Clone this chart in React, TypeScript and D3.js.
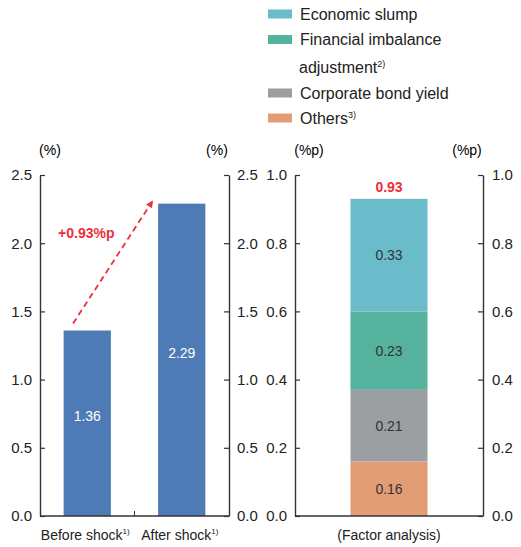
import React, { useEffect, useRef } from 'react';
import * as d3 from 'd3';

const categories = ['Before shock', 'After shock'];
const rates = [1.36, 2.29];
const rateTicks = [0, 0.5, 1.0, 1.5, 2.0, 2.5];
const rateChange = '+0.93%p';

const factorNames = ['Others', 'Corporate bond yield', 'Financial imbalance adjustment', 'Economic slump'];
const factorValues = [0.16, 0.21, 0.23, 0.33];
const factorColors = ['#e39d74', '#9c9fa2', '#55b29d', '#6bbccb'];
const factorTicks = [0, 0.2, 0.4, 0.6, 0.8, 1.0];
const factorTotal = 0.93;
const factorCategory = '(Factor analysis)';

const FONT = '"Liberation Sans", Arial, Helvetica, sans-serif';
const RED = '#ee2e3a';
const AXIS = '#333';

const App: React.FC = () => {
  const svgRef = useRef<SVGSVGElement | null>(null);

  useEffect(() => {
    const svg = d3.select(svgRef.current!);
    svg.selectAll('*').remove();
    svg.style('font-family', FONT);

    // arrow marker
    svg
      .append('defs')
      .append('marker')
      .attr('id', 'arrowhead')
      .attr('viewBox', '0 0 10 10')
      .attr('refX', 8)
      .attr('refY', 5)
      .attr('markerWidth', 4)
      .attr('markerHeight', 4)
      .attr('orient', 'auto')
      .append('path')
      .attr('d', 'M0,0L10,5L0,10z')
      .attr('fill', RED);

    // ---------- legend ----------
    const legend = svg.append('g').attr('transform', 'translate(268, 0)');
    const legendRows = [
      { i: 3, y: 14 },
      { i: 2, y: 39.5 },
      { i: 1, y: 93 },
      { i: 0, y: 118 },
    ];
    legendRows.forEach((r) => {
      legend
        .append('rect')
        .attr('x', 0)
        .attr('y', r.y - 4.5)
        .attr('width', 24)
        .attr('height', 9)
        .attr('fill', factorColors[r.i]);
    });
    const legText = (t: string, y: number, sup?: string, x = 32) => {
      const tx = legend
        .append('text')
        .attr('x', x)
        .attr('y', y + 5.5)
        .attr('font-size', 16)
        .attr('fill', '#222')
        .text(t);
      if (sup) tx.append('tspan').attr('font-size', 9).attr('dy', -6).text(sup);
    };
    legText('Economic slump', 14);
    legText('Financial imbalance', 39.5);
    legText('adjustment', 67, '2)', 31);
    legText('Corporate bond yield', 93);
    legText('Others', 118, '3)');

    // ---------- left chart ----------
    const y1 = d3.scaleLinear().domain([0, 2.5]).range([516, 175]);
    const x1 = d3
      .scaleBand<string>()
      .domain(categories)
      .range([40, 229])
      .paddingInner(0.5)
      .paddingOuter(0.25);

    const left = svg.append('g');
    left
      .selectAll('rect.bar')
      .data(rates)
      .enter()
      .append('rect')
      .attr('class', 'bar')
      .attr('x', (_, i) => x1(categories[i]) as number)
      .attr('y', (d) => y1(d))
      .attr('width', x1.bandwidth())
      .attr('height', (d) => 516 - y1(d))
      .attr('fill', '#4e7ab5');

    left
      .selectAll('text.val')
      .data(rates)
      .enter()
      .append('text')
      .attr('class', 'val')
      .attr('x', (_, i) => (x1(categories[i]) as number) + x1.bandwidth() / 2)
      .attr('y', (d) => y1(d / 2 + 0.05) + 5)
      .attr('text-anchor', 'middle')
      .attr('font-size', 14)
      .attr('fill', '#fff')
      .text((d) => d.toFixed(2));

    const leftAxis = d3
      .axisLeft(y1)
      .tickValues(rateTicks)
      .tickFormat(d3.format('.1f'))
      .tickSizeInner(-5)
      .tickSizeOuter(0)
      .tickPadding(8);
    const rightAxis = d3
      .axisRight(y1)
      .tickValues(rateTicks)
      .tickFormat(d3.format('.1f'))
      .tickSizeInner(-5)
      .tickSizeOuter(0)
      .tickPadding(8);
    left.append('g').attr('transform', 'translate(40,0)').call(leftAxis);
    left.append('g').attr('transform', 'translate(229,0)').call(rightAxis);

    // bottom line + middle tick
    left
      .append('line')
      .attr('x1', 40)
      .attr('x2', 229)
      .attr('y1', 516)
      .attr('y2', 516)
      .attr('stroke', AXIS)
      .attr('stroke-width', 1.6);
    const mid = ((x1(categories[0]) as number) + x1.bandwidth() + (x1(categories[1]) as number)) / 2;
    left
      .append('line')
      .attr('x1', mid)
      .attr('x2', mid)
      .attr('y1', 516)
      .attr('y2', 511)
      .attr('stroke', AXIS);

    categories.forEach((c) => {
      const t = left
        .append('text')
        .attr('x', (x1(c) as number) + x1.bandwidth() / 2 - 2)
        .attr('y', 540)
        .attr('text-anchor', 'middle')
        .attr('font-size', 14)
        .attr('fill', '#222')
        .text(c);
      t.append('tspan').attr('font-size', 8).attr('dy', -6).text('1)');
    });

    // arrow and change label
    left
      .append('line')
      .attr('x1', (x1(categories[0]) as number) + x1.bandwidth() * 0.2)
      .attr('y1', y1(rates[0]) - 7)
      .attr('x2', (x1(categories[1]) as number) - 6)
      .attr('y2', y1(rates[1]) - 2)
      .attr('stroke', RED)
      .attr('stroke-width', 1.8)
      .attr('stroke-dasharray', '6,4')
      .attr('marker-end', 'url(#arrowhead)');
    left
      .append('text')
      .attr('x', (x1(categories[0]) as number) + x1.bandwidth() / 2 - 1)
      .attr('y', 238)
      .attr('text-anchor', 'middle')
      .attr('font-size', 14)
      .attr('font-weight', 'bold')
      .attr('fill', RED)
      .text(rateChange);

    left.append('text').attr('x', 50).attr('y', 155).attr('text-anchor', 'middle').attr('font-size', 14).text('(%)');
    left.append('text').attr('x', 217).attr('y', 155).attr('text-anchor', 'middle').attr('font-size', 14).text('(%)');

    // ---------- right chart ----------
    const y2 = d3.scaleLinear().domain([0, 1]).range([516, 175]);
    const x2 = d3.scaleBand<string>().domain([factorCategory]).range([295, 483]).paddingInner(0).paddingOuter(0.72);
    const right = svg.append('g');

    const stacked = factorValues.map((v, i) => ({
      v,
      i,
      name: factorNames[i],
      y0: d3.sum(factorValues.slice(0, i)),
      y1: d3.sum(factorValues.slice(0, i + 1)),
    }));
    right
      .selectAll('rect.seg')
      .data(stacked)
      .enter()
      .append('rect')
      .attr('class', 'seg')
      .attr('x', x2(factorCategory) as number)
      .attr('y', (d) => y2(d.y1))
      .attr('width', x2.bandwidth())
      .attr('height', (d) => y2(d.y0) - y2(d.y1))
      .attr('fill', (d) => factorColors[d.i]);
    right
      .selectAll('text.seg')
      .data(stacked)
      .enter()
      .append('text')
      .attr('class', 'seg')
      .attr('x', (x2(factorCategory) as number) + x2.bandwidth() / 2)
      .attr('y', (d) => y2((d.y0 + d.y1) / 2) + 5)
      .attr('text-anchor', 'middle')
      .attr('font-size', 14)
      .attr('fill', '#333')
      .text((d) => d.v.toFixed(2));
    right
      .append('text')
      .attr('x', (x2(factorCategory) as number) + x2.bandwidth() / 2)
      .attr('y', y2(factorTotal) - 7)
      .attr('text-anchor', 'middle')
      .attr('font-size', 14)
      .attr('font-weight', 'bold')
      .attr('fill', RED)
      .text(factorTotal.toFixed(2));

    const fLeft = d3
      .axisLeft(y2)
      .tickValues(factorTicks)
      .tickFormat(d3.format('.1f'))
      .tickSizeInner(-5)
      .tickSizeOuter(0)
      .tickPadding(8);
    const fRight = d3
      .axisRight(y2)
      .tickValues(factorTicks)
      .tickFormat(d3.format('.1f'))
      .tickSizeInner(-5)
      .tickSizeOuter(0)
      .tickPadding(9);
    right.append('g').attr('transform', 'translate(295,0)').call(fLeft);
    right.append('g').attr('transform', 'translate(483,0)').call(fRight);
    right
      .append('line')
      .attr('x1', 295)
      .attr('x2', 483)
      .attr('y1', 516)
      .attr('y2', 516)
      .attr('stroke', AXIS)
      .attr('stroke-width', 1.6);
    right
      .append('text')
      .attr('x', (x2(factorCategory) as number) + x2.bandwidth() / 2)
      .attr('y', 540)
      .attr('text-anchor', 'middle')
      .attr('font-size', 14)
      .attr('fill', '#222')
      .text(factorCategory);
    right.append('text').attr('x', 309).attr('y', 155).attr('text-anchor', 'middle').attr('font-size', 14).text('(%p)');
    right.append('text').attr('x', 467).attr('y', 155).attr('text-anchor', 'middle').attr('font-size', 14).text('(%p)');

    // axis styling
    svg.selectAll('.domain').attr('stroke', AXIS).attr('stroke-width', 1.4);
    svg.selectAll('.tick line').attr('stroke', AXIS).attr('stroke-width', 1.2);
    svg
      .selectAll('.tick text')
      .attr('font-size', 15)
      .attr('font-family', FONT)
      .attr('fill', '#222');
  }, []);

  return (
    <svg
      ref={svgRef}
      width={521}
      height={547}
      style={{ position: 'absolute', left: 0, top: 0, background: '#fff' }}
    />
  );
};

export default App;
